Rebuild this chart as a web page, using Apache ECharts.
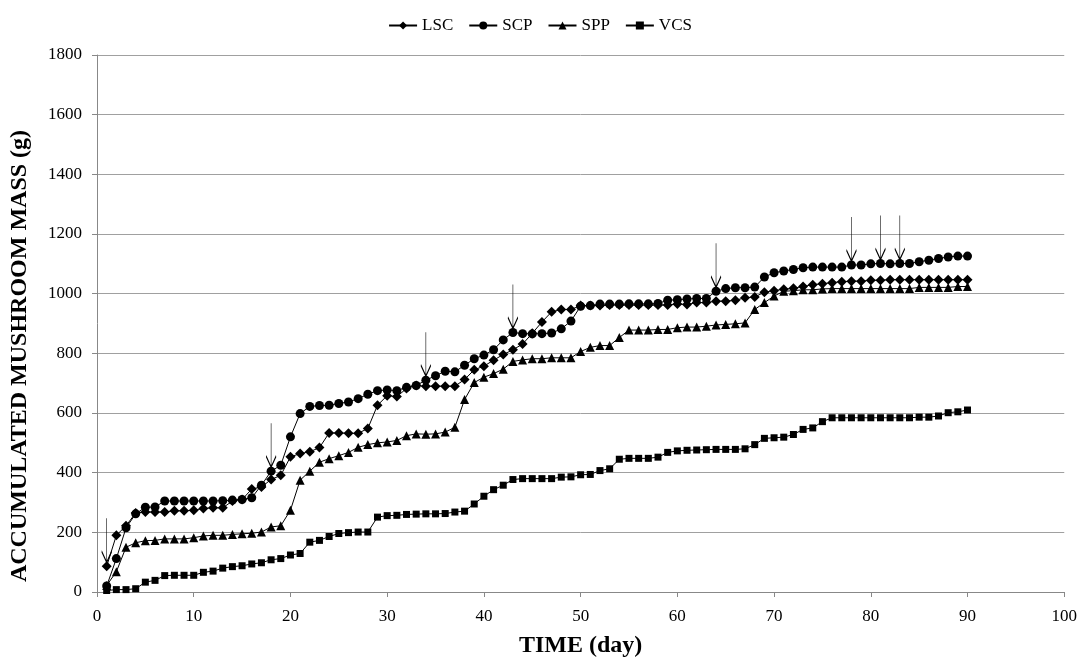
<!DOCTYPE html>
<html>
<head>
<meta charset="utf-8">
<script src="https://cdn.jsdelivr.net/npm/echarts@6/dist/echarts.min.js"></script>
<style>
html,body{margin:0;padding:0;background:#fff;}
#chart{width:1080px;height:667px;}
</style>
</head>
<body>
<div id="chart"></div>
<script>
const days = [1,2,3,4,5,6,7,8,9,10,11,12,13,14,15,16,17,18,19,20,21,22,23,24,25,26,27,28,29,30,
31,32,33,34,35,36,37,38,39,40,41,42,43,44,45,46,47,48,49,50,51,52,53,54,55,56,57,58,59,60,
61,62,63,64,65,66,67,68,69,70,71,72,73,74,75,76,77,78,79,80,81,82,83,84,85,86,87,88,89,90];

const lsc = [86,190,222,265,268,268,268,272,272,274,280,282,282,305,310,345,352,377,391,453,
464,470,484,533,533,532,532,548,626,658,655,682,692,690,690,690,690,712,745,757,
777,796,812,831,867,905,939,947,947,960,960,960,962,962,962,962,962,962,962,965,
964,970,970,975,975,978,986,989,1005,1010,1015,1018,1024,1030,1033,1037,1040,1042,1042,1045,
1045,1047,1047,1047,1047,1047,1047,1047,1047,1047];

const scp = [20,112,215,262,284,285,305,305,305,305,305,305,306,308,310,316,358,405,425,520,
598,622,625,626,632,637,648,663,675,677,675,686,692,710,725,740,738,760,782,794,
812,845,870,866,865,866,868,882,908,958,960,965,965,965,966,966,966,967,978,980,
982,984,984,1008,1017,1020,1020,1022,1056,1070,1076,1081,1087,1089,1089,1089,1089,1096,1096,1100,
1101,1100,1101,1101,1107,1112,1118,1123,1126,1126];

const spp = [22,68,150,165,172,173,178,178,178,182,188,190,190,193,195,197,201,218,222,274,
375,405,435,447,457,468,485,494,500,503,508,524,530,529,530,536,552,645,702,720,
732,747,773,778,782,782,785,785,785,806,820,826,826,853,878,878,878,880,880,886,
888,888,891,895,897,899,902,947,970,992,1008,1010,1013,1013,1016,1017,1017,1017,1017,1017,
1017,1017,1017,1017,1021,1021,1021,1021,1024,1024];

const vcs = [5,8,8,11,33,39,55,56,56,56,66,70,80,85,88,94,98,108,112,124,
129,167,173,186,196,199,201,201,251,256,257,260,261,262,262,263,268,271,295,321,
343,358,377,380,380,380,380,385,386,393,394,407,413,445,448,448,448,452,468,473,
475,476,477,478,478,478,480,494,515,517,519,528,545,550,571,584,584,584,584,584,
584,584,584,584,586,586,590,601,604,610];

const seriesNames = ['LSC','SCP','SPP','VCS'];
const xTicks = [0,10,20,30,40,50,60,70,80,90,100];
const yTicks = [0,200,400,600,800,1000,1200,1400,1600,1800];
const arrowDaysLSC = [1];
const arrowDaysSCP = [18,34,43,64,78,81,83];

const FONT = '"Liberation Serif","Times New Roman",serif';
const ARROW = 'path://M5,0L5,44M0,33L5,44L10,33';

function pairs(vals){ return days.map((d,i)=>[d, vals[i]]); }
function arrows(list, vals){
  return {
    symbol: ARROW,
    symbolSize: [10, 44],
    symbolOffset: [0, -26],
    symbolKeepAspect: false,
    silent: true,
    label: {show:false},
    itemStyle: {color:'none', borderColor:'#000', borderWidth:1.2},
    data: list.map(d => ({coord:[d, vals[days.indexOf(d)]]}))
  };
}

const symbols = ['diamond','circle','triangle','rect'];
const sizes = [10, 9, 9, 7];
const valsList = [lsc, scp, spp, vcs];

const series = seriesNames.map((name, k) => {
  const s = {
    name: name,
    type: 'line',
    data: pairs(valsList[k]),
    symbol: symbols[k],
    symbolSize: sizes[k],
    showAllSymbol: true,
    lineStyle: {color:'#000', width:1},
    itemStyle: {color:'#000'},
    emphasis: {disabled:true},
    z: 3
  };
  if (name === 'LSC') s.markPoint = arrows(arrowDaysLSC, lsc);
  if (name === 'SCP') s.markPoint = arrows(arrowDaysSCP, scp);
  return s;
});

const chart = echarts.init(document.getElementById('chart'), null, {renderer:'canvas'});
chart.setOption({
  animation: false,
  backgroundColor: '#fff',
  textStyle: {fontFamily: FONT, color:'#000'},
  legend: {
    data: seriesNames,
    top: 12,
    left: 'center',
    itemWidth: 28,
    itemHeight: 10,
    itemGap: 15,
    textStyle: {fontFamily: FONT, fontSize: 17, color:'#000'}
  },
  grid: {left: 97, right: 15, top: 55, bottom: 75, containLabel: false},
  graphic: [{
    type: 'text',
    x: 20,
    y: 356,
    rotation: Math.PI / 2,
    silent: true,
    style: {
      text: 'ACCUMULATED MUSHROOM MASS (g)',
      fontFamily: FONT,
      fontSize: 24,
      fontWeight: 'bold',
      fill: '#000',
      align: 'center',
      verticalAlign: 'middle'
    }
  }],
  xAxis: {
    type: 'value',
    min: xTicks[0],
    max: xTicks[xTicks.length-1],
    interval: 10,
    name: 'TIME (day)',
    nameLocation: 'middle',
    nameGap: 42,
    nameTextStyle: {fontFamily: FONT, fontSize: 24, fontWeight: 'bold', color:'#000'},
    axisLine: {show:true, lineStyle:{color:'#888', width:1}},
    axisTick: {show:true, length:5, lineStyle:{color:'#888'}},
    axisLabel: {fontFamily: FONT, fontSize: 17, color:'#000', margin: 16},
    splitLine: {show:false}
  },
  yAxis: {
    type: 'value',
    min: yTicks[0],
    max: yTicks[yTicks.length-1],
    interval: 200,
    axisLine: {show:true, lineStyle:{color:'#888', width:1}},
    axisTick: {show:true, length:5, lineStyle:{color:'#888'}},
    axisLabel: {fontFamily: FONT, fontSize: 17, color:'#000', margin: 15,
      formatter: v => String(v)},
    splitLine: {show:true, lineStyle:{color:'#a0a0a0', width:1}}
  },
  series: series
});
</script>
</body>
</html>
